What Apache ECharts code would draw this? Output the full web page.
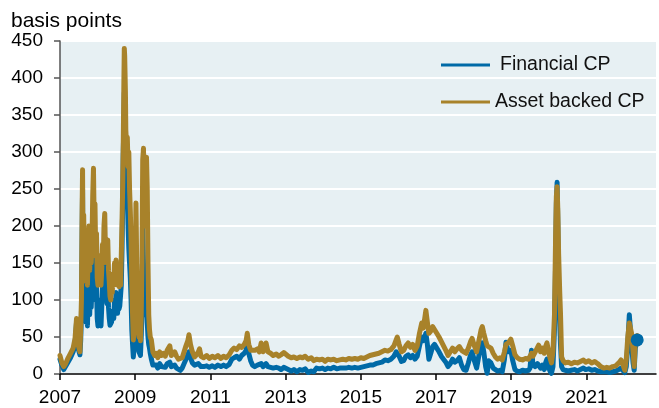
<!DOCTYPE html>
<html>
<head>
<meta charset="utf-8">
<script src="https://cdn.jsdelivr.net/npm/echarts@6/dist/echarts.min.js"></script>
<style>html,body{margin:0;padding:0;background:#fff}#c{width:659px;height:408px}</style>
</head>
<body>
<div id="c"></div>
<script>
// decimal years
const dates = [
2007.00,2007.05,2007.10,2007.15,2007.20,2007.28,2007.35,2007.40,2007.44,2007.48,2007.53,
2007.55,2007.57,2007.59,2007.60,2007.61,2007.63,2007.65,2007.67,2007.69,2007.71,2007.73,2007.75,2007.77,2007.79,2007.81,2007.83,2007.85,2007.87,2007.89,2007.91,2007.93,2007.95,2007.97,2007.99,
2008.01,2008.03,2008.05,2008.07,2008.09,2008.11,2008.13,2008.15,2008.17,2008.19,2008.21,2008.23,2008.25,2008.27,2008.29,2008.31,2008.33,2008.35,2008.37,2008.39,2008.41,2008.43,2008.45,2008.47,2008.49,2008.51,2008.53,2008.55,2008.57,2008.59,2008.61,2008.63,2008.65,2008.67,2008.68,2008.70,2008.71,2008.72,2008.74,2008.75,2008.77,2008.79,2008.81,2008.83,2008.85,2008.87,2008.89,2008.91,2008.93,2008.95,2008.97,2008.99,
2009.01,2009.02,2009.04,2009.06,2009.08,2009.10,2009.12,2009.14,2009.16,2009.18,2009.20,2009.22,2009.24,2009.26,2009.28,2009.30,2009.32,2009.34,2009.36,2009.38,2009.40,2009.43,2009.47,2009.52,
2009.56,2009.60,2009.65,2009.70,2009.75,2009.80,2009.85,2009.92,2009.96,
2010.00,2010.05,2010.10,2010.15,2010.20,2010.25,2010.30,2010.35,2010.40,2010.43,2010.47,2010.52,2010.58,2010.63,2010.68,2010.71,2010.75,2010.82,2010.90,2010.97,
2011.05,2011.12,2011.20,2011.28,2011.35,2011.42,2011.50,2011.57,2011.63,2011.70,2011.77,2011.83,2011.90,2011.95,2011.98,
2012.02,2012.07,2012.12,2012.18,2012.25,2012.30,2012.35,2012.40,2012.45,2012.48,2012.53,2012.60,2012.67,2012.75,2012.82,2012.88,2012.95,
2013.00,2013.07,2013.15,2013.22,2013.30,2013.38,2013.45,2013.52,2013.60,2013.68,2013.75,2013.82,2013.90,2013.98,
2014.05,2014.12,2014.20,2014.28,2014.36,2014.44,2014.52,2014.60,2014.68,2014.76,2014.84,2014.92,
2015.00,2015.08,2015.16,2015.24,2015.32,2015.40,2015.48,2015.56,2015.64,2015.72,2015.80,2015.88,2015.94,2015.97,
2016.02,2016.08,2016.14,2016.20,2016.26,2016.32,2016.38,2016.44,2016.50,2016.56,2016.62,2016.66,2016.70,2016.73,2016.77,2016.81,2016.86,2016.91,2016.96,
2017.02,2017.08,2017.14,2017.20,2017.26,2017.32,2017.38,2017.44,2017.50,2017.56,2017.62,2017.68,2017.74,2017.80,2017.86,2017.92,2017.96,
2018.02,2018.08,2018.14,2018.20,2018.23,2018.27,2018.32,2018.36,2018.40,2018.46,2018.52,2018.58,2018.64,2018.70,2018.76,2018.82,2018.86,2018.92,2018.99,
2019.04,2019.10,2019.16,2019.22,2019.30,2019.38,2019.46,2019.50,2019.54,2019.58,2019.64,2019.70,2019.73,2019.78,2019.83,2019.88,2019.92,2019.95,2019.99,
2020.03,2020.07,2020.11,2020.15,2020.18,2020.20,2020.22,2020.24,2020.26,2020.29,2020.31,2020.34,2020.38,2020.44,2020.52,2020.60,2020.68,2020.76,2020.84,2020.92,2020.98,
2021.06,2021.14,2021.22,2021.30,2021.38,2021.46,2021.54,2021.62,2021.70,2021.78,2021.86,2021.92,2021.96,
2022.02,2022.06,2022.10,2022.14,2022.17,2022.20,2022.24,2022.27,2022.30,2022.35
];
const financial = [
20,12,6,8,15,22,30,40,70,35,26,
45,80,200,250,130,160,75,95,70,90,65,110,140,80,120,90,120,180,230,150,170,100,120,75,
65,95,85,100,65,90,120,100,150,170,110,120,95,130,90,75,66,64,70,68,85,75,100,85,110,95,82,95,88,92,90,120,170,240,295,340,380,300,280,250,230,240,200,170,150,130,100,60,40,23,35,45,
100,150,70,45,35,30,30,25,50,80,200,150,100,80,100,120,70,50,40,35,28,20,12,10,
12,8,14,10,12,9,14,16,10,
11,12,8,6,5,8,14,20,26,30,22,15,12,12,14,14,10,10,11,9,
11,9,12,10,12,10,13,20,22,24,20,25,28,32,43,
28,18,12,10,12,11,14,10,12,14,10,9,8,9,8,6,9,
8,6,4,6,3,6,5,7,2,4,3,8,7,8,
6,8,7,9,7,8,8,8,9,8,9,8,
9,10,11,12,12,14,15,16,19,18,20,24,30,32,
24,17,18,24,26,22,25,20,24,38,50,45,50,55,40,20,28,37,40,
35,30,24,20,16,10,14,20,16,18,22,12,6,5,15,26,30,
18,8,25,38,42,30,10,1,18,15,8,6,4,5,3,20,43,30,32,
18,6,4,3,5,4,5,8,32,12,10,14,16,8,12,6,16,20,10,
4,1,10,60,150,230,259,200,120,70,40,10,6,5,4,5,6,4,6,8,6,
7,5,6,4,3,3,3,2,3,4,6,8,6,
2,10,40,80,60,40,15,5,35,46
];
const assetBacked = [
25,15,10,14,20,28,35,48,75,40,30,
60,100,230,276,180,215,135,160,125,150,120,165,200,140,185,150,175,240,278,200,230,160,190,130,
120,150,135,160,120,140,175,150,200,217,160,180,150,181,140,125,105,100,120,110,135,120,150,130,154,135,120,140,118,130,120,160,208,260,300,400,440,430,380,330,310,320,280,300,250,220,180,120,80,46,60,90,
180,231,150,80,60,50,55,45,80,150,290,305,250,200,270,293,250,150,80,60,50,46,30,25,
28,22,30,25,28,24,32,38,25,
26,30,24,20,18,22,30,38,45,53,40,30,23,26,30,34,24,22,25,21,
24,22,25,21,24,22,26,32,35,33,38,36,40,45,55,
40,32,30,32,34,30,42,30,35,42,30,28,25,27,24,26,29,
28,24,22,23,21,23,22,24,20,22,18,20,19,20,
17,20,19,20,18,19,20,19,21,20,21,20,
22,21,23,25,26,27,28,30,32,31,33,38,46,50,
40,30,32,38,42,36,40,32,38,55,69,62,75,86,70,55,58,64,62,
55,50,44,38,32,25,30,35,30,34,37,32,30,28,35,44,48,
38,30,45,60,64,55,45,38,40,35,28,23,20,22,19,30,40,42,47,
38,26,22,20,19,21,20,22,28,24,30,36,39,30,35,28,38,42,32,
22,15,30,80,185,240,253,220,163,110,82,23,18,15,16,14,16,15,17,19,16,
18,15,17,14,10,8,9,8,10,11,15,19,14,
5,20,50,69,62,55,30,10,45,52
];
const yearTicks = [2007, 2009, 2011, 2013, 2015, 2017, 2019, 2021];

const finData = dates.map((d, i) => [d, financial[i]]);
const abData = dates.map((d, i) => [d, assetBacked[i]]);
const lastIdx = dates.length - 1;

const FONT = '"Liberation Sans", Arial, sans-serif';
const BLUE = '#006aa7';
const GOLD = '#a8822a';

const chart = echarts.init(document.getElementById('c'), null, {renderer: 'canvas'});
chart.setOption({
  animation: false,
  backgroundColor: '#ffffff',
  title: {
    text: 'basis points',
    left: 6, top: 6,
    textStyle: {fontFamily: FONT, fontSize: 21, fontWeight: 'normal', color: '#000'}
  },
  legend: [
    {
      data: ['Financial CP'], left: 441, top: 53, orient: 'vertical', padding: 0,
      icon: 'rect', itemWidth: 49, itemHeight: 3,
      textStyle: {fontFamily: FONT, fontSize: 19.5, color: '#111', lineHeight: 24, padding: [0, 0, 0, 5]}
    },
    {
      data: ['Asset backed CP'], left: 441, top: 90, orient: 'vertical', padding: 0,
      icon: 'rect', itemWidth: 49, itemHeight: 3,
      textStyle: {fontFamily: FONT, fontSize: 19.5, color: '#111', lineHeight: 24}
    }
  ],
  grid: {
    left: 60, right: 3, top: 41, bottom: 34,
    show: true, backgroundColor: '#e7f0f3', borderWidth: 0
  },
  xAxis: {
    type: 'value', min: 2007, max: 2022.85,
    axisLine: {show: true, lineStyle: {color: '#000', width: 1.5}},
    axisTick: {show: true, customValues: yearTicks, length: 6, lineStyle: {color: '#000', width: 1.5}},
    axisLabel: {customValues: yearTicks, margin: 14, fontFamily: FONT, fontSize: 19, color: '#000',
      formatter: v => String(Math.round(v))},
    splitLine: {show: false}
  },
  yAxis: {
    type: 'value', min: 0, max: 450, interval: 50,
    axisLine: {show: true, lineStyle: {color: '#555', width: 1.5}},
    axisTick: {show: true, length: 6, lineStyle: {color: '#555', width: 1.5}},
    axisLabel: {margin: 17, fontFamily: FONT, fontSize: 19, color: '#000'},
    splitLine: {show: true, lineStyle: {color: '#ffffff', width: 2}}
  },
  series: [
    {
      name: 'Financial CP', type: 'line', data: finData, showSymbol: false, symbol: 'none',
      lineStyle: {color: BLUE, width: 5, join: 'round', cap: 'round'}, itemStyle: {color: BLUE}, z: 2
    },
    {
      name: 'Asset backed CP', type: 'line', data: abData, showSymbol: false, symbol: 'none',
      lineStyle: {color: GOLD, width: 5, join: 'round', cap: 'round'}, itemStyle: {color: GOLD}, z: 3
    },
    {
      name: 'last', type: 'scatter', data: [[dates[lastIdx], financial[lastIdx]]],
      symbolSize: 13, itemStyle: {color: BLUE, opacity: 1}, z: 4, silent: true
    }
  ]
});
</script>
</body>
</html>
